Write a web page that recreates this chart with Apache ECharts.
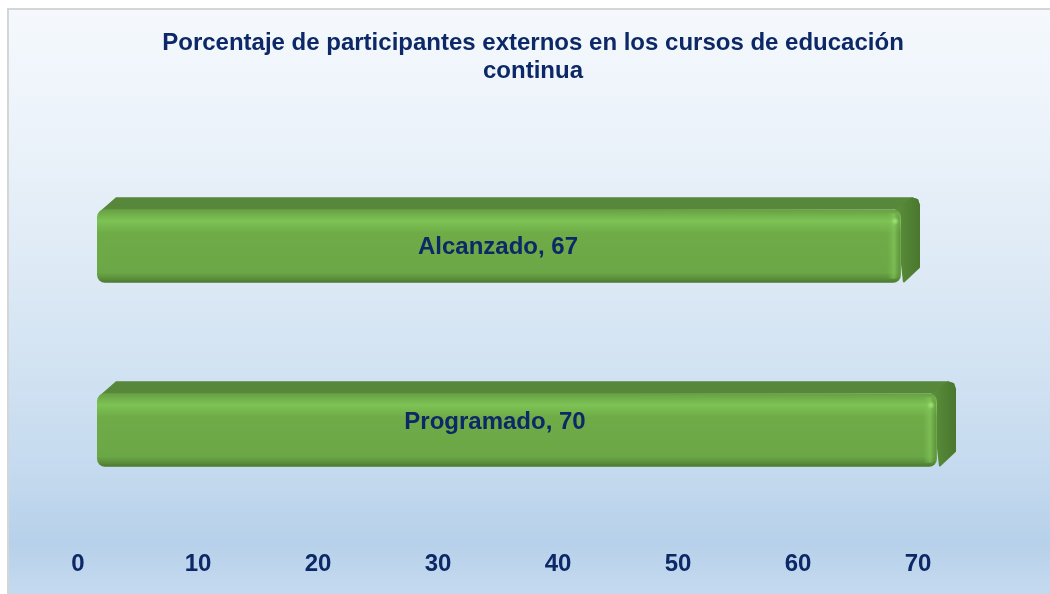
<!DOCTYPE html>
<html>
<head>
<meta charset="utf-8">
<script src="https://cdn.jsdelivr.net/npm/echarts@6/dist/echarts.min.js"></script>
<style>
html,body{margin:0;padding:0;background:#ffffff;}
#chart{width:1050px;height:594px;}
</style>
</head>
<body>
<div id="chart"></div>
<script>
const titleLines = ['Porcentaje de participantes externos en los cursos de educación', 'continua'];
const categories = ['Programado', 'Alcanzado'];
const values = [70, 67];
const axisMin = 0, axisMax = 70, axisInterval = 10;

// label placement tweaks (px, relative to the bar's front-face centre), style only
const labelShift = [[-22, -8], [-1, 1]];

const FONT = '"Liberation Sans", Arial, sans-serif';
const TXT = '#0c2866';
const chart = echarts.init(document.getElementById('chart'));

function renderBar(params, api) {
  const idx = params.dataIndex;
  const val = api.value(0);
  const cat = api.value(1);
  const p0 = api.coord([0, cat]);
  const p1 = api.coord([val, cat]);
  const h = api.size([0, 1])[1] * 0.4;
  const x0 = p0[0], x1 = p1[0];
  const yT = p0[1] - h / 2, yB = yT + h;
  const dx = 19, dy = -12;
  const sh = labelShift[idx] || [0, 0];
  return {
    type: 'group',
    children: [
      {
        type: 'polygon',
        shape: { points: [[x0 + 3, yT + 2], [x0 + dx, yT + dy], [x1 + dx - 8, yT + dy], [x1 + dx - 2, yT + dy + 2], [x1 + dx, yT + dy + 8], [x1 + dx, yB + dy - 3], [x1 + 3, yB], [x1, yT]] },
        style: { fill: '#57873a' }
      },
      {
        type: 'polygon',
        shape: { points: [[x1 - 6, yT], [x1 + dx - 8, yT + dy], [x1 + dx - 2, yT + dy + 2], [x1 + dx, yT + dy + 8], [x1 + dx, yB + dy - 4], [x1 + 2, yB]] },
        style: { fill: new echarts.graphic.LinearGradient(0, 0, 1, 0, [
          { offset: 0, color: '#5a8f3c' }, { offset: 1, color: '#4a772d' }]) }
      },
      {
        type: 'rect',
        shape: { x: x0, y: yT, width: x1 - x0, height: h, r: 8 },
        style: { fill: new echarts.graphic.LinearGradient(0, 0, 0, 1, [
          { offset: 0, color: '#679f43' },
          { offset: 0.16, color: '#7dc354' },
          { offset: 0.32, color: '#6fac48' },
          { offset: 0.86, color: '#6ba746' },
          { offset: 0.94, color: '#5a8f3b' },
          { offset: 1, color: '#4a782f' }]) }
      },
      {
        type: 'rect',
        shape: { x: x1 - 14, y: yT + 4, width: 13, height: h - 8, r: [2, 6, 6, 2] },
        style: { fill: new echarts.graphic.LinearGradient(0, 0, 1, 0, [
          { offset: 0, color: 'rgba(125,195,84,0)' },
          { offset: 0.55, color: 'rgba(135,205,95,0.55)' },
          { offset: 1, color: 'rgba(80,125,50,0.45)' }]) }
      },
      {
        type: 'circle',
        shape: { cx: x1 - 6, cy: yT + 12, r: 4 },
        style: { fill: new echarts.graphic.RadialGradient(0.5, 0.5, 0.5, [
          { offset: 0, color: 'rgba(170,230,120,0.9)' },
          { offset: 1, color: 'rgba(170,230,120,0)' }]) }
      },
      {
        type: 'text',
        style: {
          x: (x0 + x1) / 2 + sh[0], y: yT + h / 2 + sh[1],
          text: categories[idx] + ', ' + values[idx],
          font: 'bold 24px ' + FONT, fill: TXT,
          align: 'center', verticalAlign: 'middle'
        }
      }
    ]
  };
}

chart.setOption({
  animation: false,
  graphic: [
    {
      type: 'rect', z: -10,
      shape: { x: 8, y: 9, width: 1060, height: 600 },
      style: {
        stroke: '#d6d6d6', lineWidth: 2,
        fill: new echarts.graphic.LinearGradient(0, 0, 0, 1, [
          { offset: 0, color: '#f5f9fd' },
          { offset: 0.25, color: '#e9f1f9' },
          { offset: 0.5, color: '#d9e7f4' },
          { offset: 0.75, color: '#c6dbef' },
          { offset: 0.89, color: '#b7d1ea' },
          { offset: 1, color: '#c9ddf1' }])
      }
    },
    {
      type: 'text', x: 533, y: 43,
      style: { text: titleLines[0], font: 'bold 24px ' + FONT, fill: TXT, align: 'center', verticalAlign: 'middle' }
    },
    {
      type: 'text', x: 533, y: 71,
      style: { text: titleLines[1], font: 'bold 24px ' + FONT, fill: TXT, align: 'center', verticalAlign: 'middle' }
    }
  ],
  grid: [
    { left: 97, right: 113, top: 154, bottom: 72, containLabel: false },
    { left: 78, right: 132, top: 154, bottom: 72, containLabel: false }
  ],
  xAxis: [
    { gridIndex: 0, type: 'value', min: axisMin, max: axisMax, interval: axisInterval, show: false },
    {
      gridIndex: 1, type: 'value', min: axisMin, max: axisMax, interval: axisInterval,
      axisLine: { show: false }, axisTick: { show: false }, splitLine: { show: false },
      axisLabel: { margin: 30, color: TXT, fontSize: 24, fontWeight: 'bold', fontFamily: FONT }
    }
  ],
  yAxis: [
    { gridIndex: 0, type: 'category', data: categories, show: false },
    { gridIndex: 1, type: 'category', data: categories, show: false }
  ],
  series: [{
    type: 'custom',
    xAxisIndex: 0, yAxisIndex: 0,
    renderItem: renderBar,
    encode: { x: 0, y: 1 },
    data: values.map((v, i) => [v, i])
  }]
});
</script>
</body>
</html>
